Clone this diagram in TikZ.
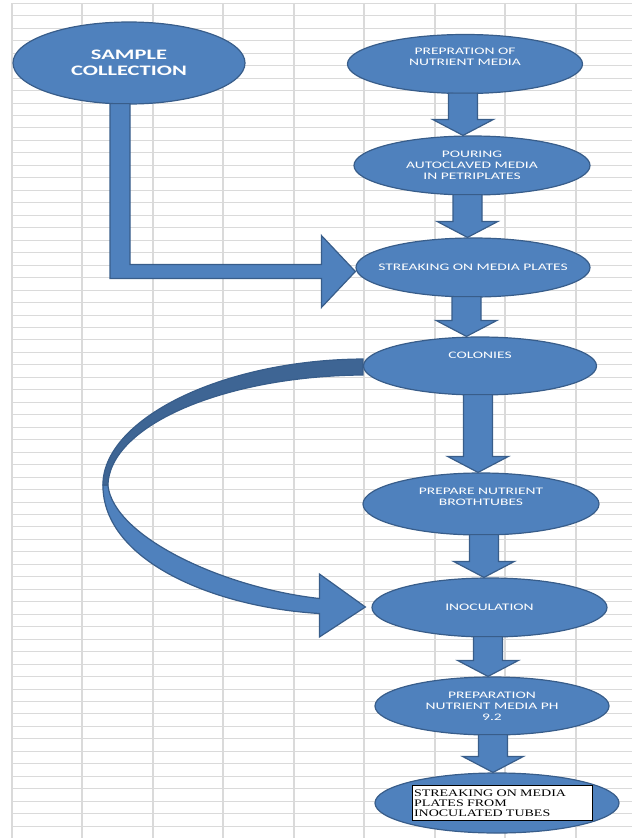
\documentclass[tikz,border=0pt]{standalone}
\usepackage{fontspec}
\usetikzlibrary{shapes.geometric,calc}
\newfontfamily\calib[FakeStretch=1.55]{Carlito}
\newfontfamily\timesw[FakeStretch=1.4]{Liberation Serif}
\definecolor{fillblue}{HTML}{4F81BD}
\definecolor{darkblue}{HTML}{3E6594}
\definecolor{bordblue}{HTML}{385D8A}
\definecolor{gridgray}{HTML}{DADADA}
\tikzset{
  stage/.style={ellipse, draw=bordblue, fill=fillblue, line width=1.2pt, text=white,
    align=center, inner sep=0pt, minimum width=234pt, minimum height=59pt,
    font=\calib\fontsize{10}{11}\selectfont},
  blockshape/.style={draw=bordblue, fill=fillblue, line width=1.2pt},
  gridline/.style={draw=gridgray, line width=1pt},
}
% block arrow from node #1 down to node #2, centred at x=#3
\newcommand{\blockarrow}[3]{%
  \path[blockshape] let \p1=(#1.south), \p2=(#2.north) in
    (#3pt-14.5pt,\y1+1pt) -- (#3pt+14.5pt,\y1+1pt) -- (#3pt+14.5pt,\y2+16pt)
    -- (#3pt+30.5pt,\y2+16pt) -- (#3pt,\y2) -- (#3pt-30.5pt,\y2+16pt)
    -- (#3pt-14.5pt,\y2+16pt) -- cycle;}
\begin{document}
\begin{tikzpicture}[x=1pt,y=-1pt]
\useasboundingbox (0,0) rectangle (632,838);
% sheet grid
\foreach \k in {0,...,66} \path[gridline] (11.7,3.3+12.468*\k) -- (632,3.3+12.468*\k);
\foreach \k in {0,...,8} \path[gridline, line width=1.6pt] (11.7+70.5*\k,3.3) -- (11.7+70.5*\k,838);

\node[stage, minimum width=232pt, minimum height=82pt, font=\calib\bfseries\fontsize{14.5}{16}\selectfont] (1) at (129,63) {SAMPLE\\COLLECTION};
\node[stage, minimum width=235pt, text depth=14pt] (2) at (465,64) {PREPRATION OF\\NUTRIENT MEDIA};
\node[stage, minimum width=236pt] (3) at (472,165.5) {POURING\\AUTOCLAVED MEDIA\\IN PETRIPLATES};
\node[stage, inner xsep=-20pt] (4) at (473,267.5) {STREAKING ON MEDIA PLATES};
\node[stage, minimum width=233pt, minimum height=58pt, text depth=22pt] (5) at (480,366) {COLONIES};
\node[stage, minimum width=236pt, minimum height=62pt, text depth=15pt] (6) at (481,504) {PREPARE NUTRIENT\\BROTHTUBES};
\node[stage, minimum width=235pt] (7) at (489.5,607.5) {INOCULATION};
\node[stage, minimum height=58pt] (8) at (492,706) {PREPARATION\\NUTRIENT MEDIA PH\\9.2};
\node[stage, minimum width=244pt, minimum height=60pt] (9) at (497,803) {};
\node[draw=black, line width=0.8pt, fill=white, text=black, text width=176pt, minimum height=35pt,
  inner sep=2pt, align=left, font=\timesw\fontsize{10}{10}\selectfont] (10) at ([xshift=5pt]9.center)
  {STREAKING ON MEDIA\\PLATES FROM\\INOCULATED TUBES};

\blockarrow{2}{3}{463}
\blockarrow{3}{4}{467.5}
\blockarrow{4}{5}{466.5}
\blockarrow{5}{6}{478}
\blockarrow{6}{7}{484}
\blockarrow{7}{8}{488}
\blockarrow{8}{9}{493}

% bent arrow
\path[blockshape] let \p1=(1.south), \p2=([yshift=-4pt]4.west) in
  (\x1-19pt,\y1+1pt) -- (\x1+1pt,\y1+1pt) -- (\x1+1pt,\y2+7pt) -- (\x2-34pt,\y2+7pt)
  -- (\x2-34pt,\y2+36pt) -- (\p2) -- (\x2-34pt,\y2-36pt) -- (\x2-34pt,\y2-7pt)
  -- (\x1-19pt,\y2-7pt) -- cycle;

% curved arrow
\path[blockshape] let \p1=(5.west), \p2=(7.west) in
  (\x1-260pt,\y1-119pt) .. controls (\x1-260pt,\y1-196pt) and (\x2-155pt,\y2+0pt) .. (\x2-52pt,\y2-6pt)
  -- (\x2-52pt,\y2-29.5pt) -- (\x2-6pt,\y2+0.5pt) -- (\x2-52pt,\y2+33.5pt) -- (\x2-52pt,\y2+9pt)
  .. controls (\x2-150pt,\y2+20pt) and (\x1-250pt,\y1-170pt) .. (\x1-255pt,\y1-119pt) -- cycle;
\path[blockshape, fill=darkblue] let \p1=(5.west) in
  (\x1,\y1+7pt) .. controls (\x1-143pt,\y1+6pt) and (\x1-260pt,\y1-54pt) .. (\x1-260pt,\y1-119pt)
  -- (\x1-255pt,\y1-119pt) .. controls (\x1-253pt,\y1-59pt) and (\x1-138pt,\y1-10pt) .. (\x1,\y1-9pt) -- cycle;
\end{tikzpicture}
\end{document}
